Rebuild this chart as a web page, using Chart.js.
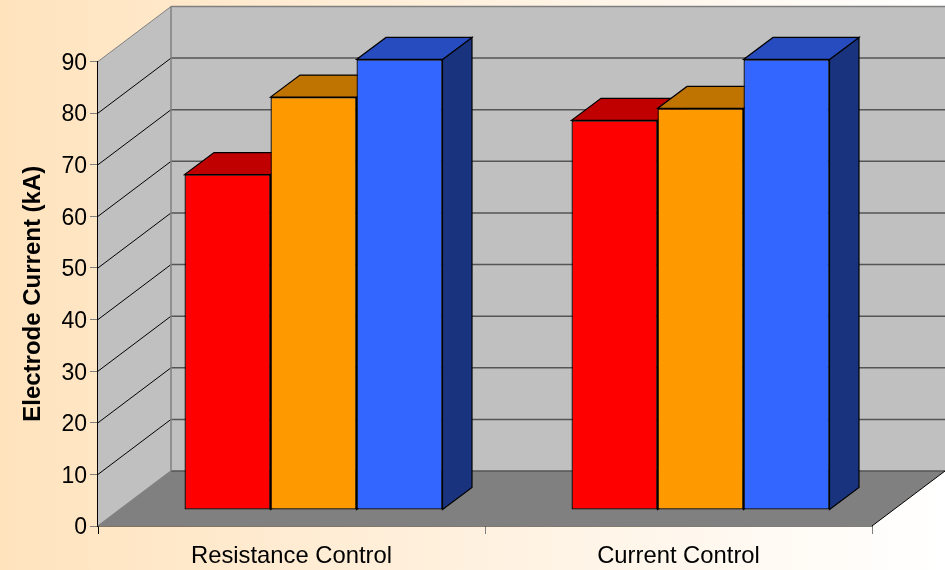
<!DOCTYPE html>
<html>
<head>
  <meta charset="utf-8"/>
  <script src="https://cdn.jsdelivr.net/npm/chart.js"></script>
  <style>
    html, body { margin: 0; padding: 0; width: 945px; height: 570px; overflow: hidden; }
    body { background: linear-gradient(to right, #ffe3bd 0%, #fff1df 50%, #ffffff 100%); }
    canvas { display: block; }
  </style>
</head>
<body>
  <canvas id="myChart" width="945" height="570"></canvas>

  <script>
    const categories = ["Resistance Control", "Current Control"];
    const redValues = [65, 75.5];
    const orangeValues = [80, 77.8];
    const blueValues = [87.3, 87.3];
    const yTicks = [0, 10, 20, 30, 40, 50, 60, 70, 80, 90];

    // ----------------------------
    // 3d look: how far the back wall and the bars are pushed
    const wallDx = 73, wallDy = -55;
    const barDx = 22, barDy = -16;
    const depthDx = 29.5, depthDy = -22;

    const faces = [
      { front: "#FF0000", top: "#C00000", side: "#800000" },
      { front: "#FF9900", top: "#BF7300", side: "#804D00" },
      { front: "#3366FF", top: "#264CBF", side: "#19337F" }
    ];

    function poly(ctx, pts, fill, stroke, width) {
      ctx.beginPath();
      pts.forEach((p, i) => i ? ctx.lineTo(p[0], p[1]) : ctx.moveTo(p[0], p[1]));
      ctx.closePath();
      if (fill) { ctx.fillStyle = fill; ctx.fill(); }
      if (stroke) { ctx.strokeStyle = stroke; ctx.lineWidth = width || 1; ctx.stroke(); }
    }

    const walls = {
      id: "walls",
      beforeDraw(chart) {
        // y labels sit a little under their tick marks in the original
        chart.scales.y.getLabelItems(chart.chartArea).forEach(item => {
          if (!item.nudged) {
            item.options.translation[1] += 2;
            item.nudged = true;
          }
        });
      },
      beforeDatasetsDraw(chart) {
        const ctx = chart.ctx;
        const a = chart.chartArea;
        const l = a.left, r = a.right, t = a.top, b = a.bottom;

        ctx.save();
        // back wall, side wall, floor
        poly(ctx, [[l + wallDx, t + wallDy], [r + wallDx, t + wallDy], [r + wallDx, b + wallDy], [l + wallDx, b + wallDy]], "#C0C0C0");
        poly(ctx, [[l, b], [l, t], [l + wallDx, t + wallDy], [l + wallDx, b + wallDy]], "#C0C0C0");
        poly(ctx, [[l, b], [r, b], [r + wallDx, b + wallDy], [l + wallDx, b + wallDy]], "#808080");

        // gridlines, taken from the y scale
        const y = chart.scales.y;
        yTicks.forEach(v => {
          const py = y.getPixelForValue(v);
          if (v > 0) {
            ctx.strokeStyle = v === 90 ? "#808080" : "#000000";
            ctx.lineWidth = 1;
            ctx.beginPath();
            ctx.moveTo(l, py);
            ctx.lineTo(l + wallDx, py + wallDy);
            ctx.stroke();
          }
          ctx.strokeStyle = v === 90 ? "#808080" : "#555555";
          ctx.lineWidth = 1.5;
          ctx.beginPath();
          ctx.moveTo(l + wallDx, py + wallDy);
          ctx.lineTo(r + wallDx, py + wallDy);
          ctx.stroke();
        });

        // edges of the box
        ctx.strokeStyle = "#808080";
        ctx.lineWidth = 1.5;
        ctx.beginPath();
        ctx.moveTo(l + wallDx, t + wallDy);
        ctx.lineTo(l + wallDx, b + wallDy);
        ctx.moveTo(l, b);
        ctx.lineTo(l + wallDx, b + wallDy);
        ctx.stroke();
        ctx.strokeStyle = "#000000";
        ctx.lineWidth = 1;
        ctx.beginPath();
        ctx.moveTo(r, b);
        ctx.lineTo(r + wallDx, b + wallDy);
        ctx.stroke();
        ctx.restore();

        // tops and sides of the bars, then push the bars themselves back
        ctx.save();
        ctx.translate(barDx, barDy);
        chart.data.datasets.forEach((ds, i) => {
          chart.getDatasetMeta(i).data.forEach(bar => {
            const x0 = bar.x - bar.width / 2, x1 = bar.x + bar.width / 2;
            const top = bar.y, base = bar.base;
            poly(ctx, [[x1, base], [x1, top], [x1 + depthDx, top + depthDy], [x1 + depthDx, base + depthDy]], faces[i].side, "#000000", 1.2);
            poly(ctx, [[x0, top], [x1, top], [x1 + depthDx, top + depthDy], [x0 + depthDx, top + depthDy]], faces[i].top, "#000000", 1.2);
          });
        });
      },
      afterDatasetsDraw(chart) {
        chart.ctx.restore();
      }
    };

    const barStyle = i => ({
      backgroundColor: faces[i].front,
      borderColor: "#000000",
      borderWidth: 1.3,
      borderSkipped: false,
      barPercentage: 1,
      categoryPercentage: 258 / 387,
      clip: false
    });

    const config = {
      type: "bar",
      data: {
        labels: categories,
        datasets: [
          { label: "Red", data: redValues, ...barStyle(0) },
          { label: "Orange", data: orangeValues, ...barStyle(1) },
          { label: "Blue", data: blueValues, ...barStyle(2) }
        ]
      },
      options: {
        responsive: false,
        animation: false,
        layout: { padding: { top: 61.5, right: 73, left: 0, bottom: 0 } },
        plugins: { legend: { display: false }, tooltip: { enabled: false } },
        scales: {
          x: {
            afterFit: s => { s.height = 44; },
            grid: {
              drawOnChartArea: false,
              tickLength: 8,
              color: c => c.index === 0 ? "#000000" : "#808080"
            },
            border: { color: "#000000", width: 1.5 },
            ticks: {
              color: "#000000",
              padding: 8,
              maxRotation: 0,
              font: { family: "Liberation Sans", size: 23.8 }
            }
          },
          y: {
            min: 0,
            max: 90,
            afterFit: s => { s.width = 98; },
            afterBuildTicks: s => { s.ticks = yTicks.map(v => ({ value: v })); },
            grid: { drawOnChartArea: false, tickLength: 8, color: "#808080" },
            border: { color: "#000000", width: 1.5 },
            title: {
              display: true,
              text: "Electrode Current (kA)",
              color: "#000000",
              padding: { top: 19, bottom: 0 },
              font: { family: "Liberation Sans", size: 24, weight: "bold" }
            },
            ticks: {
              color: "#000000",
              padding: 3,
              font: { family: "Liberation Sans", size: 23 }
            }
          }
        }
      },
      plugins: [walls]
    };

    new Chart(document.getElementById("myChart").getContext("2d"), config);
  </script>
</body>
</html>
